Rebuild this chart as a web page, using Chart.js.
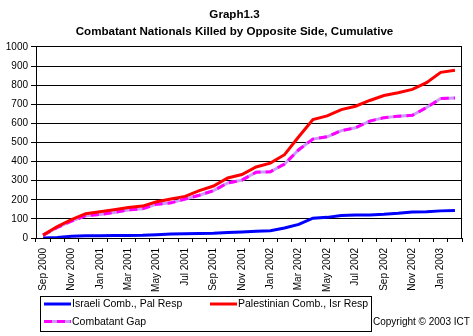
<!DOCTYPE html>
<html>
<head>
<meta charset="utf-8">
<script src="https://cdn.jsdelivr.net/npm/chart.js@4/dist/chart.umd.min.js"></script>
<style>
  html, body { margin: 0; padding: 0; background: #fff; }
  #wrap { width: 473px; height: 336px; }
</style>
</head>
<body>
<div id="wrap"><canvas id="graph"></canvas></div>
<script>
// Monthly categories, Sep 2000 - Feb 2003
const months = [
  'Sep 2000', 'Oct 2000', 'Nov 2000', 'Dec 2000',
  'Jan 2001', 'Feb 2001', 'Mar 2001', 'Apr 2001', 'May 2001', 'Jun 2001',
  'Jul 2001', 'Aug 2001', 'Sep 2001', 'Oct 2001', 'Nov 2001', 'Dec 2001',
  'Jan 2002', 'Feb 2002', 'Mar 2002', 'Apr 2002', 'May 2002', 'Jun 2002',
  'Jul 2002', 'Aug 2002', 'Sep 2002', 'Oct 2002', 'Nov 2002', 'Dec 2002',
  'Jan 2003', 'Feb 2003'
];

// Cumulative values
const israeliComb = [0, 3, 9, 12, 12, 13, 13, 14, 17, 21, 22, 23, 25, 29, 32, 35,
  38, 52, 71, 104, 108, 118, 120, 121, 124, 129, 136, 137, 142, 144];
const palestinianComb = [15, 60, 96, 127, 137, 148, 160, 167, 190, 204, 218, 248,
  272, 314, 332, 372, 392, 436, 530, 620, 639, 672, 690, 720, 746, 760, 778, 813, 867, 878];
const combatantGap = [15, 55, 88, 117, 123, 134, 147, 153, 177, 184, 204, 224,
  248, 288, 303, 344, 347, 387, 462, 518, 530, 562, 577, 612, 630, 638, 642, 683, 730, 733];

const titleLines = ['Graph1.3', 'Combatant Nationals Killed by Opposite Side, Cumulative'];
const yMin = 0, yMax = 1000, yStep = 100;
const copyrightText = 'Copyright \u00A9 2003 ICT';

const FONT = '"Liberation Sans", Arial, sans-serif';
Chart.defaults.font.family = FONT;
Chart.defaults.color = '#000';

// Right edge of the plot frame
const framePlugin = {
  id: 'frame',
  afterDraw(chart) {
    const { ctx, chartArea: a } = chart;
    ctx.save();
    ctx.strokeStyle = '#000';
    ctx.lineWidth = 1;
    ctx.beginPath();
    ctx.moveTo(Math.round(a.right) - 0.5, Math.round(a.top));
    ctx.lineTo(Math.round(a.right) - 0.5, Math.round(a.bottom) + 1);
    ctx.stroke();
    ctx.restore();
  }
};

// Boxed legend under the axis, plus the copyright note
const boxLegend = {
  id: 'boxLegend',
  afterDraw(chart) {
    const ctx = chart.ctx;
    const ds = chart.data.datasets;
    ctx.save();
    ctx.strokeStyle = '#000';
    ctx.lineWidth = 1;
    ctx.strokeRect(40.5, 296.5, 331, 35);

    ctx.font = '10.5px ' + FONT;
    ctx.fillStyle = '#000';
    ctx.textBaseline = 'middle';
    ctx.textAlign = 'left';

    const items = [
      { ds: ds[0], x: 44, y: 304 },
      { ds: ds[1], x: 210, y: 304 },
      { ds: ds[2], x: 44, y: 321.5, under: ds[3] }
    ];
    ctx.lineWidth = 3;
    items.forEach(it => {
      if (it.under) {
        ctx.strokeStyle = it.under.borderColor;
        ctx.beginPath(); ctx.moveTo(it.x, it.y); ctx.lineTo(it.x + 27, it.y); ctx.stroke();
        ctx.setLineDash(it.ds.borderDash);
      }
      ctx.strokeStyle = it.ds.borderColor;
      ctx.beginPath(); ctx.moveTo(it.x, it.y); ctx.lineTo(it.x + 27, it.y); ctx.stroke();
      ctx.setLineDash([]);
      ctx.fillText(it.ds.label, it.x + 28, it.y + 0.5);
    });

    ctx.font = '10px ' + FONT;
    ctx.fillText(copyrightText, 373, 322);
    ctx.restore();
  }
};

new Chart(document.getElementById('graph'), {
  type: 'line',
  data: {
    labels: months,
    datasets: [
      {
        label: 'Israeli Comb., Pal Resp',
        data: israeliComb,
        borderColor: '#0000FF',
        borderWidth: 3,
        order: 1
      },
      {
        label: 'Palestinian Comb., Isr Resp',
        data: palestinianComb,
        borderColor: '#FF0000',
        borderWidth: 3,
        order: 0
      },
      {
        label: 'Combatant Gap',
        data: combatantGap,
        borderColor: '#FF00FF',
        borderDash: [8, 5],
        borderWidth: 3,
        order: 2
      },
      {
        label: '',
        data: combatantGap,
        borderColor: '#CC99FF',
        borderWidth: 3,
        order: 3
      }
    ]
  },
  options: {
    responsive: true,
    maintainAspectRatio: false,
    animation: false,
    devicePixelRatio: 1,
    elements: {
      point: { radius: 0 },
      line: { tension: 0, borderCapStyle: 'butt' }
    },
    layout: { padding: { top: 0, right: 4, bottom: 42, left: 0 } },
    plugins: {
      legend: { display: false },
      tooltip: { enabled: false },
      title: {
        display: true,
        text: titleLines,
        color: '#000',
        font: { size: 11.6, weight: 'bold', lineHeight: 1.4 },
        padding: { top: 7, bottom: 7.5 }
      }
    },
    scales: {
      x: {
        offset: true,
        afterFit(s) { s.height = 56; },
        grid: {
          offset: true,
          drawOnChartArea: false,
          drawTicks: true,
          tickLength: 4,
          color: '#000'
        },
        border: { color: '#000' },
        ticks: {
          autoSkip: false,
          minRotation: 90,
          maxRotation: 90,
          padding: 6,
          font: { size: 10 },
          color: '#000',
          callback: (v, i) => (i % 2 === 0 ? months[i] : '')
        }
      },
      y: {
        min: yMin,
        max: yMax,
        afterFit(s) { s.width = 36; },
        grid: { color: '#000', tickLength: 5 },
        border: { color: '#000' },
        ticks: {
          stepSize: yStep,
          padding: 3,
          font: { size: 10 },
          color: '#000',
          callback: v => String(v)
        }
      }
    }
  },
  plugins: [framePlugin, boxLegend]
});
</script>
</body>
</html>
